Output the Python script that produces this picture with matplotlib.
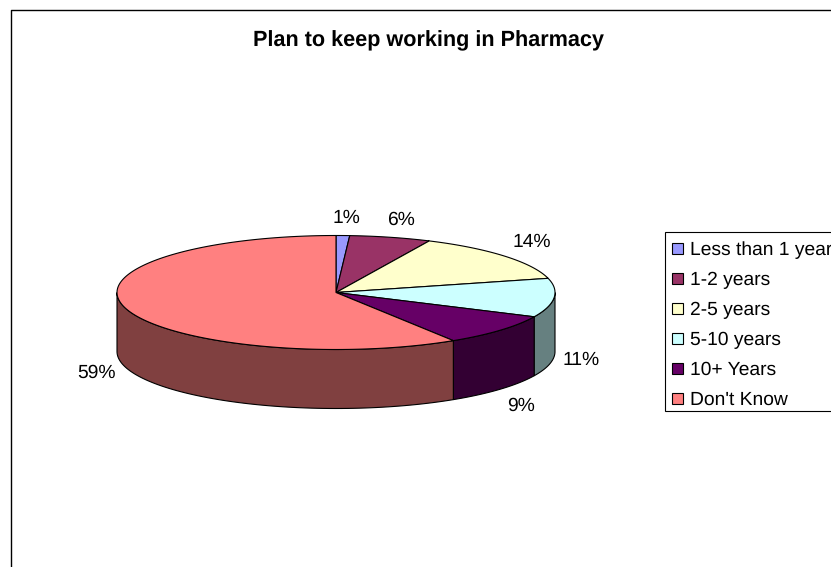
"""Excel style 3D pie: plan to keep working in pharmacy."""

import numpy as np
import matplotlib

matplotlib.use("Agg")
import matplotlib.pyplot as plt
from matplotlib.patches import Polygon, Rectangle

plt.rcParams["font.family"] = ["Liberation Sans", "DejaVu Sans"]
plt.rcParams["text.hinting"] = "none"

labels = ["Less than 1 year", "1-2 years", "2-5 years", "5-10 years", "10+ Years", "Don't Know"]
shares = [1, 6, 14, 11, 9, 59]
colors = ["#9999FF", "#993366", "#FFFFCC", "#CCFFFF", "#660066", "#FF8080"]
sides = ["#4D4D80", "#4D1A33", "#808066", "#668080", "#330033", "#804040"]
pct_pos = [(346, 218), (401, 220), (532, 242), (581, 360), (521, 406), (97, 373)]

# pie geometry in pixels
CX, CY = 336, 292.5
RX, RY = 219, 57
DEPTH = 59


def rim(a0, a1, n=80):
    # angles are clockwise from 12 o'clock, in degrees
    t = np.radians(np.linspace(a0, a1, n))
    return CX + RX * np.sin(t), CY - RY * np.cos(t)


def main():
    fig = plt.figure(figsize=(8.31, 5.67), dpi=100)
    ax = fig.add_axes([0, 0, 1, 1])
    ax.set_xlim(0, 831)
    ax.set_ylim(567, 0)
    ax.axis("off")

    # chart area frame, runs off the right and bottom edges
    ax.plot([11, 11, 831], [567, 9.5, 9.5], color="black", lw=1.0, zorder=1)

    ax.text(428, 41, "Plan to keep working in Pharmacy", ha="center", va="center",
            fontsize=15.6, fontweight="bold", color="black")

    edges = np.cumsum([0] + shares) / sum(shares) * 360

    # side walls, only the front half of the rim (90 to 270 deg) is visible
    for i in range(len(shares)):
        a0, a1 = max(edges[i], 90), min(edges[i + 1], 270)
        if a0 >= a1:
            continue
        x, y = rim(a0, a1)
        pts = np.r_[np.c_[x, y], np.c_[x[::-1], y[::-1] + DEPTH]]
        ax.add_patch(Polygon(pts, closed=True, fc=sides[i], ec="black", lw=0.8, zorder=2))

    # top face
    for i in range(len(shares)):
        x, y = rim(edges[i], edges[i + 1], 160)
        pts = np.r_[[[CX, CY]], np.c_[x, y]]
        ax.add_patch(Polygon(pts, closed=True, fc=colors[i], ec="black", lw=0.8,
                             joinstyle="round", zorder=3))

    for share, (px, py) in zip(shares, pct_pos):
        ax.text(px, py, f"{share}%", ha="center", va="center", fontsize=13.9, color="black")

    # legend, cut off by the right edge like the source
    ax.add_patch(Rectangle((665, 232), 180, 179, fc="white", ec="black", lw=0.8,
                           clip_on=True, zorder=2))
    for i, name in enumerate(labels):
        y = 249 + 30 * i
        ax.add_patch(Rectangle((672, y - 6), 11, 11, fc=colors[i], ec="black", lw=0.8, zorder=3))
        ax.text(690, y + 1, name, ha="left", va="center", fontsize=13.9, color="black", zorder=3)

    fig.savefig("out.png", dpi=100, facecolor="white")


if __name__ == "__main__":
    main()
